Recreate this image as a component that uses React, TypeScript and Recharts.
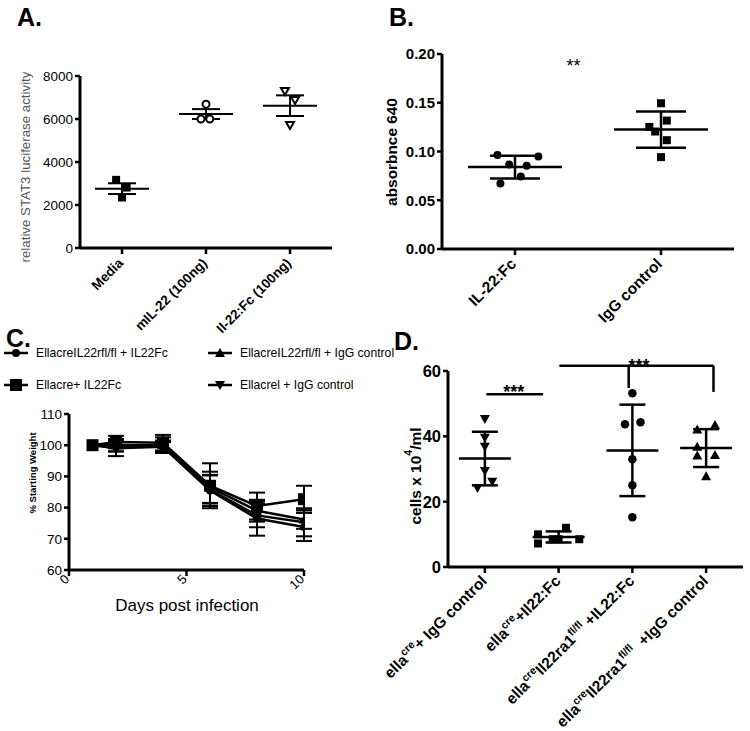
import React from "react";
import {
  ScatterChart,
  Scatter,
  LineChart,
  Line,
  XAxis,
  YAxis,
  ErrorBar,
  ReferenceLine,
  ReferenceDot,
  Label,
} from "recharts";

const FONT = "'Liberation Sans', Arial, Helvetica, sans-serif";

// ---------- panel A: STAT3 luciferase ----------
const aGroups = ["Media", "mIL-22 (100ng)", "Il-22:Fc (100ng)"];
const aMedia = [3170, 2810, 2350];
const aMil22 = [6690, 6000, 6000];
const aIl22Fc = [7300, 6885, 5720];
const aJitter = [
  [-0.07, 0.055, 0],
  [0, -0.06, 0.045],
  [-0.06, 0.06, 0],
];
const aMean = [2760, 6230, 6620];
const aSem = [250, 230, 480];
const aTicks = [0, 2000, 4000, 6000, 8000];

// ---------- panel B: absorbance ----------
const bGroups = ["IL-22:Fc", "IgG control"];
const bIl22Fc = [0.0963, 0.0949, 0.0866, 0.0853, 0.0744, 0.0672];
const bIgG = [0.1495, 0.1317, 0.1252, 0.1205, 0.1116, 0.0942];
const bJitter = [
  [-0.12, 0.16, -0.04, 0.08, 0.04, -0.1],
  [0, 0.04, -0.08, -0.04, 0.04, 0],
];
const bMean = [0.084, 0.1225];
const bSd = [0.0116, 0.0186];
const bTicks = [0, 0.05, 0.1, 0.15, 0.2];

// ---------- panel C: weight curves ----------
const cDays = [1, 2, 4, 6, 8, 10];
const cNames = [
  "EllacreIL22rfl/fl + IL22Fc",
  "Ellacre+ IL22Fc",
  "EllacreIL22rfl/fl + IgG control",
  "Ellacrel + IgG control",
];
const cShapes = ["circle", "square", "triUp", "triDown"];
const cS1 = [100, 99.5, 99.5, 85.5, 76.5, 73.8];
const cS1Err = [0, 1.5, 1.5, 5, 5.5, 4.5];
const cS2 = [100, 101, 100.8, 87, 80.5, 82.7];
const cS2Err = [0, 2, 2.5, 7.2, 4.3, 4.3];
const cS3 = [100, 100, 100, 86.5, 79, 76.2];
const cS3Err = [0, 2, 2.5, 5, 3.5, 3];
const cS4 = [100, 99, 99.5, 85.8, 77.5, 75.3];
const cS4Err = [0, 2.5, 2, 4.5, 3.8, 4.5];
const cYTicks = [60, 70, 80, 90, 100, 110];
const cXTicks = [0, 5, 10];

// ---------- panel D: cell counts ----------
const dGroups = [
  "ella^{cre}+ IgG control",
  "ella^{cre}+Il22:Fc",
  "ella^{cre}Il22ra1^{fl/fl} +IL22:Fc",
  "ella^{cre}Il22ra1^{fl/fl}  +IgG control",
];
const dIgG = [45.3, 39.6, 36.8, 29.4, 26.1, 24.2];
const dIl22Fc = [12, 10, 8.5, 8.5, 8.5, 7.2];
const dKoIl22Fc = [53.2, 43.7, 44.3, 33, 25, 15.2];
const dKoIgG = [42.1, 43.5, 36.8, 34.3, 34.1, 27.8];
const dJitter = [
  [0, 0, 0, 0, 0.1, -0.1],
  [0.1, -0.28, -0.08, 0, 0.28, -0.28],
  [0, -0.1, 0.11, 0, 0, 0],
  [-0.12, 0.12, -0.12, 0.12, -0.12, 0],
];
const dMean = [33.2, 9.2, 35.7, 36.4];
const dSd = [8.2, 1.7, 14, 5.8];
const dTicks = [0, 20, 40, 60];

const cData = cDays.map((d, i) => ({
  day: d,
  s1: cS1[i], e1: cS1Err[i],
  s2: cS2[i], e2: cS2Err[i],
  s3: cS3[i], e3: cS3Err[i],
  s4: cS4[i], e4: cS4Err[i],
}));

const pts = (vals: number[], jit: number[], g: number) =>
  vals.map((y, i) => ({ x: g + jit[i], y }));
const summary = (means: number[], errs: number[]) =>
  means.map((y, i) => ({ x: i, y, err: errs[i] }));

const axisLine = { stroke: "#000", strokeWidth: 3 };
const tickLine = { stroke: "#000", strokeWidth: 2.5 };

const mk = (kind: string, cx: number, cy: number, s: number) => {
  const h = s / 2;
  switch (kind) {
    case "square":
      return <rect x={cx - h} y={cy - h} width={s} height={s} fill="#000" />;
    case "circle":
      return <circle cx={cx} cy={cy} r={h} fill="#000" />;
    case "circleOpen":
      return <circle cx={cx} cy={cy} r={h - 1} fill="#fff" stroke="#000" strokeWidth={2} />;
    case "triUp":
      return <polygon points={`${cx - h},${cy + h * 0.8} ${cx + h},${cy + h * 0.8} ${cx},${cy - h}`} fill="#000" />;
    case "triDown":
      return <polygon points={`${cx - h},${cy - h * 0.8} ${cx + h},${cy - h * 0.8} ${cx},${cy + h}`} fill="#000" />;
    case "triDownOpen":
      return (
        <polygon
          points={`${cx - h + 1},${cy - h * 0.8 + 1} ${cx + h - 1},${cy - h * 0.8 + 1} ${cx},${cy + h - 1}`}
          fill="#fff"
          stroke="#000"
          strokeWidth={2}
        />
      );
    default:
      return null;
  }
};

const meanShape = (hw: number, sw: number) => (p: any) =>
  <line x1={p.cx - hw} x2={p.cx + hw} y1={p.cy} y2={p.cy} stroke="#000" strokeWidth={sw} />;

// rich text: "ella^{cre}..." -> superscripts
const rich = (s: string, fs: number) => {
  const parts = s.split(/\^\{([^}]*)\}/);
  const out: React.ReactNode[] = [];
  let raised = false;
  parts.forEach((t, i) => {
    if (!t) return;
    const sup = i % 2 === 1;
    let dy = 0;
    if (sup && !raised) { dy = -fs * 0.42; raised = true; }
    if (!sup && raised) { dy = fs * 0.42; raised = false; }
    out.push(
      <tspan key={i} dy={dy} fontSize={sup ? fs * 0.68 : fs}>{t}</tspan>
    );
  });
  return out;
};

const rotTick = (labels: string[] | null, fs: number, weight: number, dx: number, dy: number) => (props: any) => {
  const { x, y, payload } = props;
  const txt = labels ? labels[Math.round(payload.value)] : String(payload.value);
  return (
    <g transform={`translate(${x + dx},${y + dy})`}>
      <text
        textAnchor="end"
        transform="rotate(-45)"
        dy="0.35em"
        fontSize={fs}
        fontWeight={weight}
        fontFamily={FONT}
        fill="#000"
        style={{ whiteSpace: "pre" }}
      >
        {rich(txt, fs)}
      </text>
    </g>
  );
};

const vTitle = (cx: number, cy: number, body: React.ReactNode, fs: number, weight: number, color = "#000") => () => (
  <text
    x={cx}
    y={cy}
    transform={`rotate(-90 ${cx} ${cy})`}
    textAnchor="middle"
    dominantBaseline="central"
    fontSize={fs}
    fontWeight={weight}
    fontFamily={FONT}
    fill={color}
  >
    {body}
  </text>
);

const PanelA = () => (
  <ScatterChart width={345} height={340} margin={{ top: 76, right: 13, bottom: 0, left: 0 }}>
    <XAxis
      type="number"
      dataKey="x"
      domain={[-0.5, 2.5]}
      ticks={[0, 1, 2]}
      allowDataOverflow
      height={92}
      axisLine={axisLine}
      tickLine={tickLine}
      tickSize={6}
      interval={0}
      tick={rotTick(aGroups, 13.5, 700, 2, 8)}
    />
    <YAxis
      type="number"
      dataKey="y"
      domain={[0, 8000]}
      ticks={aTicks}
      allowDataOverflow
      width={80}
      axisLine={axisLine}
      tickLine={tickLine}
      tickSize={5}
      interval={0}
      tick={{ fill: "#000", fontSize: 13.5, fontFamily: FONT }}
    >
      <Label content={vTitle(25, 167, "relative STAT3 luciferase activity", 13.3, 400, "#555")} />
    </YAxis>
    <Scatter data={pts(aMedia, aJitter[0], 0)} shape={(p: any) => mk("square", p.cx, p.cy, 8)} isAnimationActive={false} />
    <Scatter data={pts(aMil22, aJitter[1], 1)} shape={(p: any) => mk("circleOpen", p.cx, p.cy, 9)} isAnimationActive={false} />
    <Scatter data={pts(aIl22Fc, aJitter[2], 2)} shape={(p: any) => mk("triDownOpen", p.cx, p.cy, 10)} isAnimationActive={false} />
    <Scatter data={summary(aMean, aSem)} shape={meanShape(27, 2)} isAnimationActive={false}>
      <ErrorBar dataKey="err" direction="y" width={14} stroke="#000" strokeWidth={2} />
    </Scatter>
  </ScatterChart>
);

const PanelB = () => (
  <ScatterChart width={375} height={340} margin={{ top: 54, right: 16, bottom: 0, left: 0 }}>
    <XAxis
      type="number"
      dataKey="x"
      domain={[-0.5, 1.5]}
      ticks={[0, 1]}
      allowDataOverflow
      height={91}
      axisLine={axisLine}
      tickLine={tickLine}
      tickSize={6}
      interval={0}
      tick={rotTick(bGroups, 15.5, 700, 2, 8)}
    />
    <YAxis
      type="number"
      dataKey="y"
      domain={[0, 0.2]}
      ticks={bTicks}
      allowDataOverflow
      width={67}
      axisLine={axisLine}
      tickLine={tickLine}
      tickSize={5}
      interval={0}
      tickFormatter={(v: number) => v.toFixed(2)}
      tick={{ fill: "#000", fontSize: 15, fontWeight: 700, fontFamily: FONT }}
    >
      <Label content={vTitle(16, 152, "absorbnce 640", 15.4, 700)} />
    </YAxis>
    <Scatter data={pts(bIl22Fc, bJitter[0], 0)} shape={(p: any) => mk("circle", p.cx, p.cy, 8)} isAnimationActive={false} />
    <Scatter data={pts(bIgG, bJitter[1], 1)} shape={(p: any) => mk("square", p.cx, p.cy, 8)} isAnimationActive={false} />
    <Scatter data={summary(bMean, bSd)} shape={meanShape(47, 2.5)} isAnimationActive={false}>
      <ErrorBar dataKey="err" direction="y" width={25} stroke="#000" strokeWidth={2.5} />
    </Scatter>
    <ReferenceDot
      x={0.4}
      y={0.188}
      r={0}
      fill="none"
      stroke="none"
      ifOverflow="visible"
      label={{ value: "**", position: "center", fontSize: 18, fill: "#000", fontFamily: FONT }}
    />
  </ScatterChart>
);

const cKeys = ["s1", "s2", "s3", "s4"];
const cErrKeys = ["e1", "e2", "e3", "e4"];
const cSizes = [8, 12, 10, 10];
const cDrawOrder = [0, 3, 2, 1];

const PanelC = () => (
  <LineChart width={330} height={250} data={cData} margin={{ top: 34, right: 26, bottom: 0, left: 0 }}>
    <XAxis
      type="number"
      dataKey="day"
      domain={[0, 10]}
      ticks={cXTicks}
      allowDataOverflow
      height={60}
      axisLine={axisLine}
      tickLine={tickLine}
      tickSize={6}
      interval={0}
      tick={rotTick(null, 13, 400, 1, 2)}
    >
      <Label
        content={() => (
          <text x={187} y={225} textAnchor="middle" dominantBaseline="central" fontSize={17} fontFamily={FONT} fill="#000">
            Days post infection
          </text>
        )}
      />
    </XAxis>
    <YAxis
      type="number"
      domain={[60, 110]}
      ticks={cYTicks}
      allowDataOverflow
      width={69}
      axisLine={axisLine}
      tickLine={tickLine}
      tickSize={5}
      interval={0}
      tick={{ fill: "#000", fontSize: 13.5, fontFamily: FONT }}
    >
      <Label content={vTitle(32, 93, "% Starting Weight", 9.5, 700)} />
    </YAxis>
    {cDrawOrder.map((i) => (
      <Line
        key={cKeys[i]}
        dataKey={cKeys[i]}
        stroke="#000"
        strokeWidth={2.5}
        isAnimationActive={false}
        dot={(p: any) => <g key={`${cKeys[i]}-${p.index}`}>{mk(cShapes[i], p.cx, p.cy, cSizes[i])}</g>}
        activeDot={false}
      >
        <ErrorBar dataKey={cErrKeys[i]} direction="y" width={8} stroke="#000" strokeWidth={2} />
      </Line>
    ))}
  </LineChart>
);

const LegendC = () => (
  <div style={{ position: "absolute", left: 0, top: 343, width: 420, height: 60 }}>
    {cNames.map((name, i) => (
      <div
        key={name}
        style={{
          position: "absolute",
          left: Math.floor(i / 2) * 204,
          top: (i % 2) * 32,
          height: 20,
          display: "flex",
          alignItems: "center",
        }}
      >
        <svg width={32} height={20}>
          <line x1={4} x2={28} y1={10} y2={10} stroke="#000" strokeWidth={2.5} />
          {mk(cShapes[i], 16, 10, cSizes[i])}
        </svg>
        <span style={{ fontSize: 12.2, marginLeft: 4, whiteSpace: "nowrap", fontFamily: FONT, color: "#000" }}>{name}</span>
      </div>
    ))}
  </div>
);

const PanelD = () => (
  <ScatterChart width={375} height={391} margin={{ top: 31, right: 7, bottom: 0, left: 0 }}>
    <XAxis
      type="number"
      dataKey="x"
      domain={[-0.5, 3.5]}
      ticks={[0, 1, 2, 3]}
      allowDataOverflow
      height={164}
      axisLine={axisLine}
      tickLine={tickLine}
      tickSize={6}
      interval={0}
      tick={rotTick(dGroups, 15.5, 700, 3, 7)}
    />
    <YAxis
      type="number"
      dataKey="y"
      domain={[0, 60]}
      ticks={dTicks}
      allowDataOverflow
      width={73}
      axisLine={axisLine}
      tickLine={tickLine}
      tickSize={5}
      interval={0}
      tick={{ fill: "#000", fontSize: 16.5, fontWeight: 700, fontFamily: FONT }}
    >
      <Label content={vTitle(40, 136, rich("cells x 10^{4}/ml", 15.5), 15.5, 700)} />
    </YAxis>
    <Scatter data={pts(dIgG, dJitter[0], 0)} shape={(p: any) => mk("triDown", p.cx, p.cy, 10)} isAnimationActive={false} />
    <Scatter data={pts(dIl22Fc, dJitter[1], 1)} shape={(p: any) => mk("square", p.cx, p.cy, 8)} isAnimationActive={false} />
    <Scatter data={pts(dKoIl22Fc, dJitter[2], 2)} shape={(p: any) => mk("circle", p.cx, p.cy, 8.5)} isAnimationActive={false} />
    <Scatter data={pts(dKoIgG, dJitter[3], 3)} shape={(p: any) => mk("triUp", p.cx, p.cy, 10)} isAnimationActive={false} />
    <Scatter data={summary(dMean, dSd)} shape={meanShape(26, 2.5)} isAnimationActive={false}>
      <ErrorBar dataKey="err" direction="y" width={13} stroke="#000" strokeWidth={2.5} />
    </Scatter>
    <ReferenceLine segment={[{ x: 0.02, y: 52.9 }, { x: 0.79, y: 52.9 }]} stroke="#000" strokeWidth={2.5} ifOverflow="visible" />
    <ReferenceLine segment={[{ x: 1.01, y: 61.6 }, { x: 3.1, y: 61.6 }]} stroke="#000" strokeWidth={2.5} ifOverflow="visible" />
    <ReferenceLine segment={[{ x: 1.95, y: 61.6 }, { x: 1.95, y: 54.8 }]} stroke="#000" strokeWidth={2.5} ifOverflow="visible" />
    <ReferenceLine segment={[{ x: 3.1, y: 61.6 }, { x: 3.1, y: 53.6 }]} stroke="#000" strokeWidth={2.5} ifOverflow="visible" />
    <ReferenceDot
      x={0.39}
      y={53.6}
      r={0}
      fill="none"
      stroke="none"
      ifOverflow="visible"
      label={{ value: "***", position: "center", fontSize: 18, fontWeight: 700, fill: "#000", fontFamily: FONT }}
    />
    <ReferenceDot
      x={2.09}
      y={61.8}
      r={0}
      fill="none"
      stroke="none"
      ifOverflow="visible"
      label={{ value: "***", position: "center", fontSize: 18, fontWeight: 700, fill: "#000", fontFamily: FONT }}
    />
  </ScatterChart>
);

const Letter = ({ t, left, top }: { t: string; left: number; top: number }) => (
  <div
    style={{
      position: "absolute",
      left,
      top,
      fontSize: 25,
      lineHeight: "25px",
      fontWeight: 700,
      fontFamily: FONT,
      color: "#000",
    }}
  >
    {t}
  </div>
);

export default function App() {
  return (
    <div style={{ position: "absolute", left: 0, top: 0, width: 750, height: 731, background: "#fff", overflow: "hidden" }}>
      <div style={{ position: "absolute", left: 0, top: 0 }}>
        <PanelA />
      </div>
      <div style={{ position: "absolute", left: 375, top: 0 }}>
        <PanelB />
      </div>
      <div style={{ position: "absolute", left: 0, top: 380 }}>
        <PanelC />
      </div>
      <LegendC />
      <div style={{ position: "absolute", left: 375, top: 340 }}>
        <PanelD />
      </div>
      <Letter t="A." left={17} top={5} />
      <Letter t="B." left={389} top={5} />
      <Letter t="C." left={6} top={326} />
      <Letter t="D." left={394} top={329} />
    </div>
  );
}
